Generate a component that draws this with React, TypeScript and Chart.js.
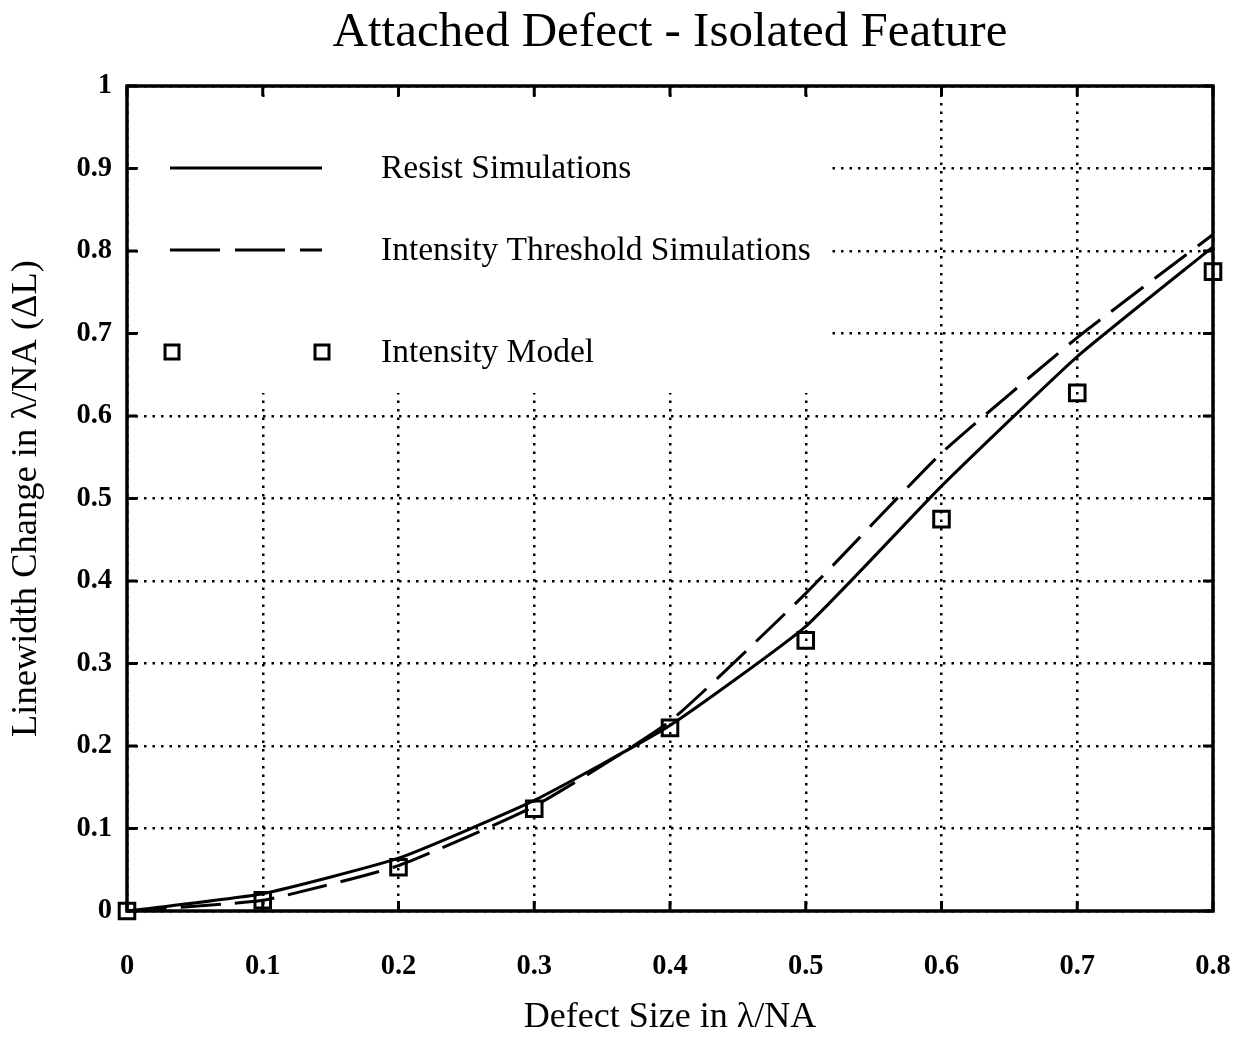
import React, { useEffect, useRef } from 'react';
import { Chart, registerables } from 'chart.js';

Chart.register(...registerables);

const defectSize = [0, 0.1, 0.2, 0.3, 0.4, 0.5, 0.6, 0.7, 0.8];
const resistSimulations = [0, 0.021, 0.064, 0.134, 0.225, 0.345, 0.515, 0.672, 0.805];
const thresholdSimulations = [0, 0.013, 0.055, 0.127, 0.23, 0.385, 0.555, 0.695, 0.82];
const intensityModel = [0, 0.013, 0.053, 0.124, 0.222, 0.328, 0.475, 0.628, 0.775];

const xTickLabels = ['0', '0.1', '0.2', '0.3', '0.4', '0.5', '0.6', '0.7', '0.8'];
const yTickLabels = ['0', '0.1', '0.2', '0.3', '0.4', '0.5', '0.6', '0.7', '0.8', '0.9', '1'];
const seriesNames = ['Resist Simulations', 'Intensity Threshold Simulations', 'Intensity Model'];

const chartTitle = 'Attached Defect - Isolated Feature';
const xTitle = 'Defect Size in \u03BB/NA';
const yTitle = 'Linewidth Change in \u03BB/NA (\u0394L)';

const SERIF = '"Liberation Serif", "Times New Roman", serif';
const DASH = [40, 14];

const legendPlugin = {
  id: 'boxedLegend',
  beforeDatasetsDraw(chart: any) {
    const { ctx, chartArea } = chart;
    const { left, top } = chartArea;
    ctx.save();
    ctx.fillStyle = '#ffffff';
    ctx.fillRect(left + 12, top + 14, 830 - (left + 12), 393 - (top + 14));
    ctx.strokeStyle = '#000';
    ctx.fillStyle = '#000';
    ctx.lineWidth = 3;
    ctx.lineCap = 'butt';
    const rows = [top + 82, top + 164, top + 266];
    const x1 = left + 43;
    const x2 = left + 195;
    const tx = left + 254;
    ctx.setLineDash([]);
    ctx.beginPath();
    ctx.moveTo(x1, rows[0]);
    ctx.lineTo(x2, rows[0]);
    ctx.stroke();
    ctx.setLineDash([50, 15]);
    ctx.beginPath();
    ctx.moveTo(x1, rows[1]);
    ctx.lineTo(x2, rows[1]);
    ctx.stroke();
    ctx.setLineDash([]);
    ctx.lineWidth = 3;
    [x1 + 2, x2].forEach((sx) => {
      ctx.strokeRect(sx - 7, rows[2] - 7, 14, 14);
    });
    ctx.font = '33.5px ' + SERIF;
    ctx.textBaseline = 'middle';
    ctx.textAlign = 'left';
    seriesNames.forEach((name, i) => ctx.fillText(name, tx, rows[i] + 1));
    ctx.restore();
  },
};

const framePlugin = {
  id: 'frameTicks',
  afterDraw(chart: any) {
    const { ctx, chartArea, scales } = chart;
    const { left, right, top, bottom } = chartArea;
    const len = 10;
    ctx.save();
    ctx.strokeStyle = '#000';
    ctx.lineWidth = 3;
    ctx.setLineDash([]);
    ctx.beginPath();
    scales.x.ticks.forEach((t: any) => {
      const px = scales.x.getPixelForValue(t.value);
      ctx.moveTo(px, bottom);
      ctx.lineTo(px, bottom - len);
      ctx.moveTo(px, top);
      ctx.lineTo(px, top + len);
    });
    scales.y.ticks.forEach((t: any) => {
      const py = scales.y.getPixelForValue(t.value);
      ctx.moveTo(left, py);
      ctx.lineTo(left + len, py);
      ctx.moveTo(right, py);
      ctx.lineTo(right - len, py);
    });
    ctx.stroke();
    ctx.lineWidth = 3.5;
    ctx.strokeRect(left, top, right - left, bottom - top);
    ctx.restore();
  },
};

export default function App() {
  const ref = useRef<HTMLCanvasElement>(null);

  useEffect(() => {
    document.body.style.margin = '0';
    const canvas = ref.current;
    if (!canvas) return;
    const pts = (ys: number[]) => defectSize.map((x, i) => ({ x, y: ys[i] }));
    const chart = new Chart(canvas, {
      type: 'line',
      data: {
        datasets: [
          {
            label: seriesNames[0],
            data: pts(resistSimulations),
            borderColor: '#000',
            borderWidth: 3,
            pointRadius: 0,
            tension: 0.15,
            fill: false,
            clip: false,
          },
          {
            label: seriesNames[1],
            data: pts(thresholdSimulations),
            borderColor: '#000',
            borderWidth: 3,
            borderDash: DASH,
            pointRadius: 0,
            tension: 0.15,
            fill: false,
            clip: false,
          },
          {
            label: seriesNames[2],
            data: pts(intensityModel),
            showLine: false,
            borderColor: '#000',
            pointStyle: 'rect',
            pointRadius: 11,
            pointBorderWidth: 3,
            pointBorderColor: '#000',
            pointBackgroundColor: 'rgba(0,0,0,0)',
            clip: false,
          },
        ],
      } as any,
      options: {
        animation: false,
        responsive: true,
        maintainAspectRatio: false,
        layout: { autoPadding: false, padding: { top: 0, left: 0, right: 28, bottom: 0 } },
        plugins: {
          legend: { display: false },
          tooltip: { enabled: false },
          title: {
            display: true,
            fullSize: false,
            text: chartTitle,
            color: '#000',
            font: { family: SERIF, size: 49, weight: 'normal', lineHeight: 1.2 },
            padding: { top: 4, bottom: 23.2 },
          },
        },
        scales: {
          x: {
            type: 'linear',
            min: 0,
            max: 0.8,
            afterFit: (s: any) => {
              s.height = 126;
              s.paddingLeft = 0;
              s.paddingRight = 0;
            },
            ticks: {
              stepSize: 0.1,
              padding: 39,
              color: '#000',
              font: { family: SERIF, size: 28.5, weight: 'bold' },
              callback: (v: any, i: number) => xTickLabels[i] ?? String(v),
              maxRotation: 0,
            },
            grid: { color: '#000', lineWidth: 2.5, drawTicks: false },
            border: { display: false, dash: [2.5, 6] },
            title: {
              display: true,
              text: xTitle,
              color: '#000',
              font: { family: SERIF, size: 36, weight: 'normal', lineHeight: 1.0 },
              padding: { top: 0, bottom: 1 },
            },
          },
          y: {
            type: 'linear',
            min: 0,
            max: 1,
            afterFit: (s: any) => {
              s.width = 127;
            },
            ticks: {
              stepSize: 0.1,
              padding: 15,
              color: '#000',
              font: { family: SERIF, size: 28.5, weight: 'bold' },
              callback: (v: any, i: number) => yTickLabels[i] ?? String(v),
            },
            grid: { color: '#000', lineWidth: 2.5, drawTicks: false },
            border: { display: false, dash: [2.5, 6] },
            title: {
              display: true,
              text: yTitle,
              color: '#000',
              font: { family: SERIF, size: 36.5, weight: 'normal', lineHeight: 1.0 },
              padding: { top: 8, bottom: 0 },
            },
          },
        },
      } as any,
      plugins: [legendPlugin, framePlugin],
    });
    return () => chart.destroy();
  }, []);

  return (
    <div style={{ position: 'fixed', left: 0, top: 0, width: 1241, height: 1037, background: '#fff' }}>
      <canvas ref={ref} />
    </div>
  );
}
